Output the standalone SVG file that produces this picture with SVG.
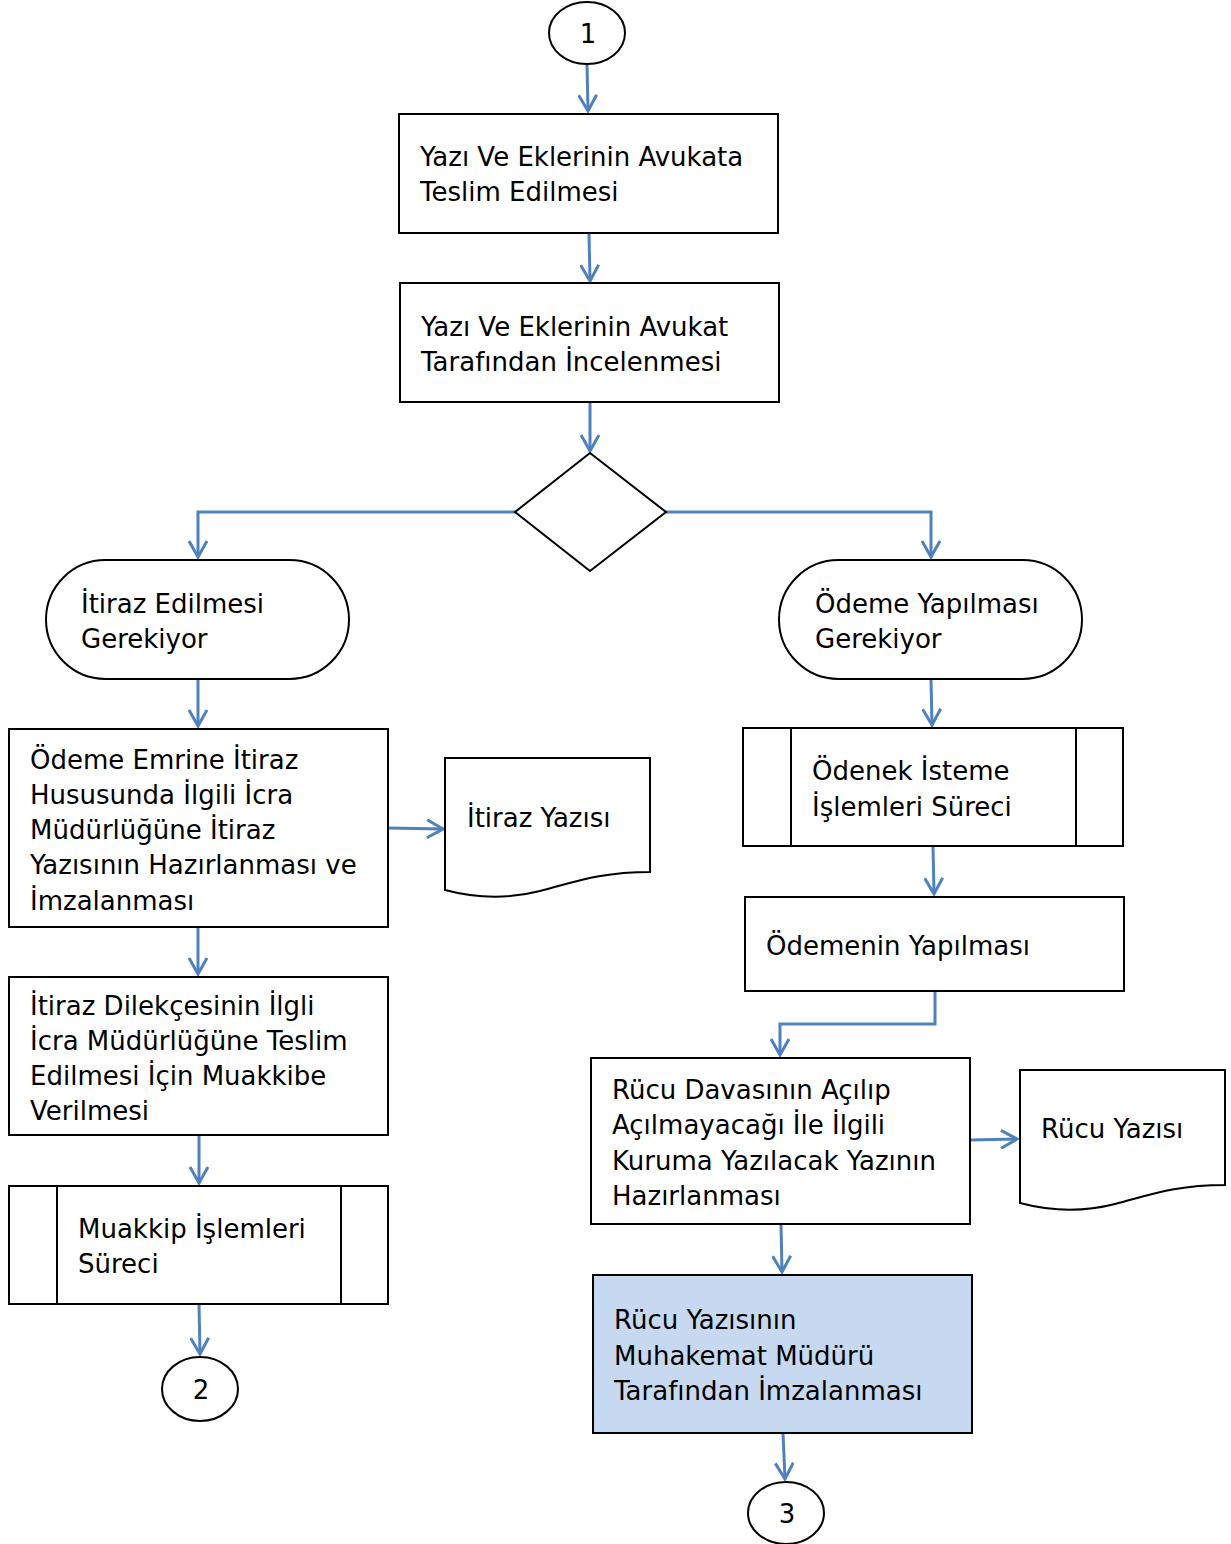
<svg xmlns="http://www.w3.org/2000/svg" width="1231" height="1544" viewBox="0 0 1231 1544">
<defs>
<marker id="arr" viewBox="0 0 20 20" refX="18" refY="10" markerWidth="20" markerHeight="20" markerUnits="userSpaceOnUse" orient="auto">
<path d="M2,1 L18,10 L2,19" fill="none" stroke="#4F81BD" stroke-width="3"/>
</marker>
<style>
.s{fill:#fff;stroke:#000;stroke-width:2}
.t{font-family:"DejaVu Sans",sans-serif;font-size:26px;fill:#000}
.c{fill:none;stroke:#4F81BD;stroke-width:3;marker-end:url(#arr)}
</style>
</defs>
<rect width="1231" height="1544" fill="#fff"/>
<g id="connectors">
<path class="c" d="M587,64 L588,111"/>
<path class="c" d="M589,233 L590,281"/>
<path class="c" d="M590,402 L590,451"/>
<path class="c" d="M515,512 H198 V557"/>
<path class="c" d="M666,512 H931 V557"/>
<path class="c" d="M198,679 L198,726"/>
<path class="c" d="M931,679 L932,725"/>
<path class="c" d="M388,828 L443,829"/>
<path class="c" d="M198,927 L198,974"/>
<path class="c" d="M199,1135 L199,1183"/>
<path class="c" d="M199,1304 L200,1354"/>
<path class="c" d="M933,846 L934,894"/>
<path class="c" d="M935,991 V1024 H780 V1055"/>
<path class="c" d="M970,1140 L1017,1139"/>
<path class="c" d="M781,1224 L782,1272"/>
<path class="c" d="M783,1433 L785,1479"/>
</g>
<g id="n1"><ellipse class="s" cx="587" cy="33" rx="38" ry="31"/><text class="t" x="588" y="43" text-anchor="middle">1</text></g>
<g id="n2"><rect class="s" x="399" y="114" width="379" height="119"/><text class="t" x="420" y="166">Yazı Ve Eklerinin Avukata</text><text class="t" x="420" y="201">Teslim Edilmesi</text></g>
<g id="n3"><rect class="s" x="400" y="283" width="379" height="119"/><text class="t" x="421" y="336">Yazı Ve Eklerinin Avukat</text><text class="t" x="421" y="371">Tarafından İncelenmesi</text></g>
<g id="n4"><path class="s" d="M590,453 L666,512 L590,571 L515,512 Z"/></g>
<g id="n5"><rect class="s" x="46" y="560" width="303" height="119" rx="59.5" ry="59.5"/><text class="t" x="81" y="613">İtiraz Edilmesi</text><text class="t" x="81" y="648">Gerekiyor</text></g>
<g id="n6"><rect class="s" x="779" y="560" width="303" height="119" rx="59.5" ry="59.5"/><text class="t" x="815" y="613">Ödeme Yapılması</text><text class="t" x="815" y="648">Gerekiyor</text></g>
<g id="n7"><rect class="s" x="9" y="729" width="379" height="198"/><text class="t" x="30" y="769">Ödeme Emrine İtiraz</text><text class="t" x="30" y="804">Hususunda İlgili İcra</text><text class="t" x="30" y="839">Müdürlüğüne İtiraz</text><text class="t" x="30" y="874">Yazısının Hazırlanması ve</text><text class="t" x="30" y="910">İmzalanması</text></g>
<g id="n8"><path class="s" d="M445,758 H650 V872 C600,872 575,882 540,891 C505,900 475,898 445,890 Z"/><text class="t" x="467" y="827">İtiraz Yazısı</text></g>
<g id="n9"><rect class="s" x="9" y="977" width="379" height="158"/><text class="t" x="30" y="1015">İtiraz Dilekçesinin İlgli</text><text class="t" x="30" y="1050">İcra Müdürlüğüne Teslim</text><text class="t" x="30" y="1085">Edilmesi İçin Muakkibe</text><text class="t" x="30" y="1120">Verilmesi</text></g>
<g id="n10"><rect class="s" x="9" y="1186" width="379" height="118"/><path class="s" d="M57,1186 V1304 M341,1186 V1304"/><text class="t" x="78" y="1238">Muakkip İşlemleri</text><text class="t" x="78" y="1273">Süreci</text></g>
<g id="n11"><ellipse class="s" cx="200" cy="1389" rx="38" ry="32"/><text class="t" x="201" y="1399" text-anchor="middle">2</text></g>
<g id="n12"><rect class="s" x="743" y="728" width="380" height="118"/><path class="s" d="M791,728 V846 M1076,728 V846"/><text class="t" x="812" y="780">Ödenek İsteme</text><text class="t" x="812" y="816">İşlemleri Süreci</text></g>
<g id="n13"><rect class="s" x="745" y="897" width="379" height="94"/><text class="t" x="766" y="955">Ödemenin Yapılması</text></g>
<g id="n14"><rect class="s" x="591" y="1058" width="379" height="166"/><text class="t" x="612" y="1099">Rücu Davasının Açılıp</text><text class="t" x="612" y="1134">Açılmayacağı İle İlgili</text><text class="t" x="612" y="1170">Kuruma Yazılacak Yazının</text><text class="t" x="612" y="1205">Hazırlanması</text></g>
<g id="n15"><path class="s" d="M1020,1070 H1225 V1185 C1175,1185 1150,1195 1115,1204 C1080,1213 1050,1211 1020,1203 Z"/><text class="t" x="1041" y="1138">Rücu Yazısı</text></g>
<g id="n16"><rect x="593" y="1275" width="379" height="158" fill="#C6D9F1" stroke="#000" stroke-width="2"/><text class="t" x="614" y="1329">Rücu Yazısının</text><text class="t" x="614" y="1365">Muhakemat Müdürü</text><text class="t" x="614" y="1400">Tarafından İmzalanması</text></g>
<g id="n17"><ellipse class="s" cx="786" cy="1513" rx="38" ry="31"/><text class="t" x="787" y="1523" text-anchor="middle">3</text></g>
</svg>
